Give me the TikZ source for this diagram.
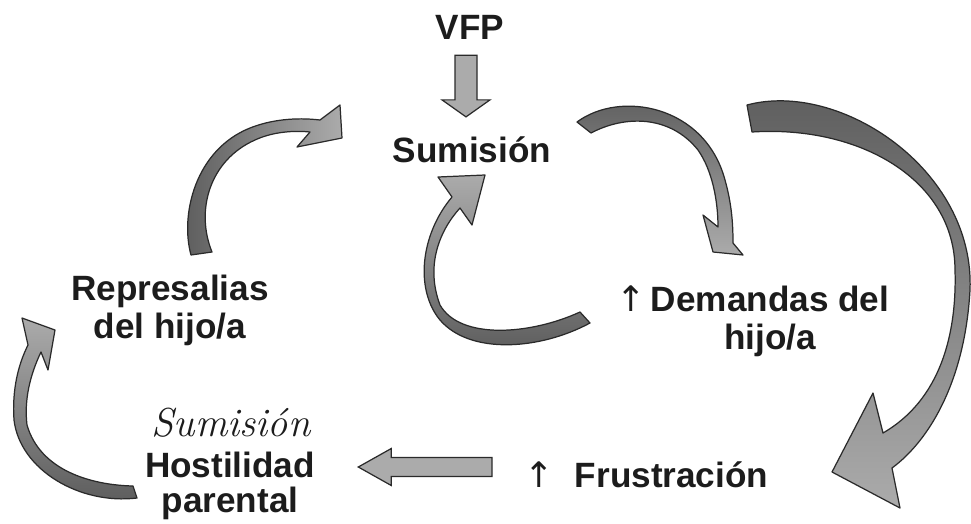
\documentclass[tikz,border=0pt]{standalone}
\usepackage{fontspec}
\setsansfont{Liberation Sans}
\newfontfamily\arrowfont{DejaVu Sans}
\usetikzlibrary{calc}
\definecolor{ink}{HTML}{1C1C1C}
\definecolor{arrowedge}{HTML}{2A2A2A}
\definecolor{arrowlight}{HTML}{ABABAB}
\definecolor{arrowdark}{HTML}{5C5C5C}

% straight fat arrow: tail, tip, half shaft, half head, head length
\newcommand{\fatarrow}[5]{%
  \coordinate (fa-a) at (#1);
  \coordinate (fa-b) at (#2);
  \coordinate (fa-c) at ($(fa-b)!#5!(fa-a)$);
  \filldraw[straightfat] ($(fa-a)!#3!90:(fa-b)$) -- ($(fa-c)!#3!90:(fa-b)$)
    -- ($(fa-c)!#4!90:(fa-b)$) -- (fa-b) -- ($(fa-c)!#4!-90:(fa-b)$)
    -- ($(fa-c)!#3!-90:(fa-b)$) -- ($(fa-a)!#3!-90:(fa-b)$) -- cycle;}
\newcommand{\upmark}{{\arrowfont\mdseries ↑}}

\begin{document}
\begin{tikzpicture}[x=0.2mm, y=-0.2mm,
    every node/.style={inner sep=0pt, text=ink,
      font=\sffamily\bfseries\fontsize{20}{21.6}\selectfont},
    twoline/.style={align=center},
    straightfat/.style={draw=arrowedge, fill=arrowlight, line width=0.7pt},
    curvefat/.style={draw=arrowedge, line width=0.7pt, line join=round}]
  \path[use as bounding box] (0,0) rectangle (971,523);

  \node[anchor=base] (vfp) at (470,39) {VFP};
  \node[anchor=base] (sum) at (472,162) {Sumisión};
  \node[twoline] (rep) at (170,310) {Represalias\\del hijo/a};
  \node[twoline] (dem) at (770,321) {\llap{\upmark\hspace{0.15em}}Demandas del\\hijo/a};
  \node[anchor=base west] (frus) at (524,487) {\upmark\hspace{0.6em}Frustración};
  \node[twoline] (host) at (230,486) {Hostilidad\\[-2pt]parental};
  \node[anchor=base, font=\rmfamily\itshape\fontsize{23}{23}\selectfont] (hand) at (231,436) {Sumisión};

  % straight arrows
  \fatarrow{$(vfp.south)+(-4,16)$}{$(vfp.south |- sum.north)+(-4,-19)$}{2.2mm}{4.8mm}{3.4mm}
  \fatarrow{$(frus.base west)+(-32,-20)$}{$(host.east |- frus.base west)+(43,-20)$}{1.9mm}{3.7mm}{6.6mm}

  % represalias -> sumision
  \path[curvefat, left color=arrowdark, right color=arrowlight]
    (191,255) .. controls (180,215) and (195,150) .. (250,128)
    .. controls (270,120) and (295,117) .. (320,120)
    -- (340,105) -- (342,138) -- (297,147) -- (310,132)
    .. controls (290,130) and (270,133) .. (255,140)
    .. controls (210,160) and (195,210) .. (212,252) -- cycle;
  % sumision -> demandas
  \path[curvefat, top color=arrowdark, bottom color=arrowlight]
    (577,122) .. controls (620,90) and (705,105) .. (725,180)
    .. controls (732,205) and (733,225) .. (733,243)
    -- (743,255) -- (713,252) -- (703,215) -- (718,227)
    .. controls (718,200) and (712,170) .. (698,150)
    .. controls (670,115) and (625,115) .. (591,133) -- cycle;
  % big arrow -> frustracion
  \path[curvefat, top color=arrowdark, bottom color=arrowlight]
    (747,105) .. controls (840,80) and (975,170) .. (970,290)
    .. controls (965,380) and (930,440) .. (892,468)
    -- (900,508) -- (832,472) -- (873,393) -- (883,433)
    .. controls (940,400) and (957,335) .. (955,270)
    .. controls (955,180) and (860,125) .. (752,132) -- cycle;
  % demandas -> sumision
  \path[curvefat, top color=arrowlight, bottom color=arrowdark]
    (590,323) .. controls (540,350) and (470,355) .. (440,320)
    .. controls (415,290) and (420,235) .. (452,197)
    -- (438,177) -- (485,175) -- (472,225) -- (460,208)
    .. controls (440,230) and (425,265) .. (440,305)
    .. controls (460,340) and (530,335) .. (580,312) -- cycle;
  % hostilidad -> represalias
  \path[curvefat, top color=arrowlight, bottom color=arrowdark]
    (137,498) .. controls (80,505) and (20,470) .. (14,420)
    .. controls (12,390) and (18,365) .. (28,345)
    -- (22,318) -- (55,330) -- (48,370) -- (41,352)
    .. controls (30,375) and (24,400) .. (27,425)
    .. controls (40,470) and (90,485) .. (133,486) -- cycle;
\end{tikzpicture}
\end{document}
